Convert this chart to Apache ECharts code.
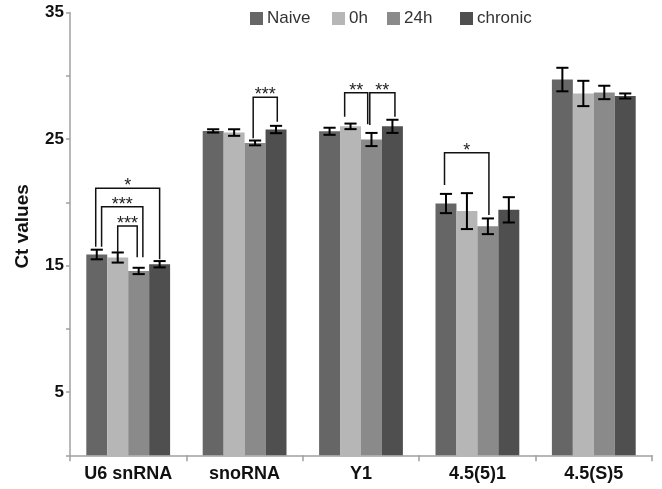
<!DOCTYPE html>
<html><head><meta charset="utf-8">
<script src="https://cdn.jsdelivr.net/npm/echarts@6/dist/echarts.min.js"></script>
<style>html,body{margin:0;padding:0;background:#fff}#c{width:662px;height:489px}</style>
</head><body><div id="c"></div>
<script>
const categories = ['U6 snRNA', 'snoRNA', 'Y1', '4.5(5)1', '4.5(S)5'];
const seriesNames = ['Naive', '0h', '24h', 'chronic'];
const naive   = [15.87, 25.64, 25.61, 19.9, 29.7];
const h0      = [15.63, 25.51, 26.0, 19.3, 28.6];
const h24     = [14.57, 24.69, 24.96, 18.1, 28.68];
const chronic = [15.1, 25.75, 26.0, 19.4, 28.4];
const naiveErr   = [0.38, 0.13, 0.28, 0.76, 0.93];
const h0Err      = [0.4, 0.26, 0.22, 1.42, 1.0];
const h24Err     = [0.25, 0.19, 0.52, 0.62, 0.53];
const chronicErr = [0.25, 0.29, 0.52, 1.0, 0.2];
const yTickLabels = [5, 15, 25, 35];
// significance brackets: category, left bar pos, right bar pos, top value, left leg end, right leg end
const bracketCat   = [0, 0, 0, 1, 2, 2, 3];
const bracketLeft  = [-0.05, 0.23, 1.0, 1.91, 0.72, 1.92, -0.07];
const bracketRight = [3.0, 2.2, 1.93, 3.06, 1.82, 3.12, 2.05];
const bracketTop   = [21.10, 19.65, 18.12, 28.30, 28.66, 28.66, 23.92];
const bracketLEnd  = [16.49, 16.49, 16.01, 25.06, 26.76, 26.11, 21.36];
const bracketREnd  = [15.49, 15.65, 15.65, 26.37, 26.16, 26.76, 18.99];
const bracketStars = ['*', '***', '***', '***', '**', '**', '*'];

const colors = ['#666666', '#b6b6b6', '#8a8a8a', '#4f4f4f'];
const legendLeft = [250, 332, 387, 460];
const FONT = "'Liberation Sans', Arial, sans-serif";
const BAR_FRAC = 0.18;
const values = [naive, h0, h24, chronic];
const errs = [naiveErr, h0Err, h24Err, chronicErr];

const errData = [];
values.forEach((arr, si) => arr.forEach((v, ci) => {
  errData.push([ci, si, v - errs[si][ci], v + errs[si][ci]]);
}));
const bracketData = bracketCat.map((c, i) => [c, bracketLeft[i], bracketRight[i], bracketTop[i], bracketLEnd[i], bracketREnd[i]]);

function barX(api, cat, pos) {
  const bw = api.size([1, 0])[0] * BAR_FRAC;
  return api.coord([cat, 0])[0] + (pos - 1.5) * bw;
}

const chart = echarts.init(document.getElementById('c'));
chart.setOption({
  animation: false,
  backgroundColor: '#fff',
  textStyle: { fontFamily: FONT },
  legend: seriesNames.map((n, i) => ({
    data: [n], left: legendLeft[i], top: 10, padding: 0, itemWidth: 13, itemHeight: 13,
    icon: 'rect', textStyle: { fontSize: 17, color: '#333', fontFamily: FONT, padding: [0, 0, 0, -1] }
  })),
  grid: { left: 70, right: 10, top: 12.5, bottom: 33.75 },
  xAxis: {
    type: 'category', data: categories,
    axisLine: { lineStyle: { color: '#a0a0a0', width: 1.5 } },
    axisTick: { show: true, length: 6, lineStyle: { color: '#a0a0a0', width: 1.5 } },
    axisLabel: { fontSize: 18, fontWeight: 'bold', color: '#111', margin: 10, fontFamily: FONT }
  },
  yAxis: {
    type: 'value', min: 0, max: 35, interval: 5,
    name: 'Ct values', nameLocation: 'middle', nameGap: 38, nameRotate: 90,
    nameTextStyle: { fontSize: 19, fontWeight: 'bold', color: '#111', fontFamily: FONT, padding: [0, 0, 0, 15] },
    splitLine: { show: false },
    axisLine: { show: true, lineStyle: { color: '#a0a0a0', width: 1.5 } },
    axisTick: { show: true, length: 4, lineStyle: { color: '#a0a0a0', width: 1.5 } },
    axisLabel: {
      fontSize: 17, fontWeight: 'bold', color: '#111', margin: 6, fontFamily: FONT,
      formatter: v => yTickLabels.indexOf(v) >= 0 ? String(v) : ''
    }
  },
  series: [
    ...seriesNames.map((n, i) => ({
      name: n, type: 'bar', data: values[i], barWidth: (BAR_FRAC * 100) + '%', barGap: '0%',
      itemStyle: { color: colors[i] }
    })),
    {
      type: 'custom', z: 5, data: errData, encode: { x: 0, y: [2, 3] }, silent: true,
      renderItem: (params, api) => {
        const cat = api.value(0), si = api.value(1);
        const bw = api.size([1, 0])[0] * BAR_FRAC;
        const xc = barX(api, cat, si);
        const yLo = api.coord([cat, api.value(2)])[1];
        const yHi = api.coord([cat, api.value(3)])[1];
        const cap = bw * 0.29;
        const st = { stroke: '#000', lineWidth: 2 };
        return { type: 'group', children: [
          { type: 'line', shape: { x1: xc, y1: yLo, x2: xc, y2: yHi }, style: st },
          { type: 'line', shape: { x1: xc - cap, y1: yLo, x2: xc + cap, y2: yLo }, style: st },
          { type: 'line', shape: { x1: xc - cap, y1: yHi, x2: xc + cap, y2: yHi }, style: st }
        ]};
      }
    },
    {
      type: 'custom', z: 6, data: bracketData, encode: { x: 0, y: 3 }, silent: true,
      renderItem: (params, api) => {
        const cat = api.value(0);
        const xl = barX(api, cat, api.value(1));
        const xr = barX(api, cat, api.value(2));
        const yt = api.coord([cat, api.value(3)])[1];
        const yl = api.coord([cat, api.value(4)])[1];
        const yr = api.coord([cat, api.value(5)])[1];
        return { type: 'group', children: [
          { type: 'polyline', shape: { points: [[xl, yl], [xl, yt], [xr, yt], [xr, yr]] },
            style: { stroke: '#111', lineWidth: 1.5, fill: null } },
          { type: 'text', style: { text: bracketStars[params.dataIndex], x: (xl + xr) / 2, y: yt - 2,
            align: 'center', verticalAlign: 'middle', fontSize: 18, fontFamily: FONT, fill: '#222' } }
        ]};
      }
    }
  ]
});
</script></body></html>
